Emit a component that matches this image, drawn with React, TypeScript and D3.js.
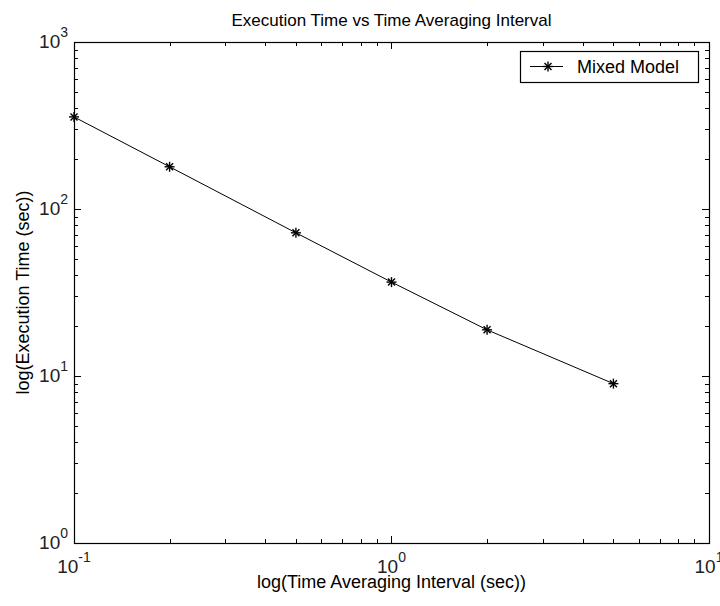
import React, { useEffect, useRef } from 'react'
import * as d3 from 'd3'

// data
const intervals = [0.1, 0.2, 0.5, 1, 2, 5]
const execTimes = [356, 179, 72, 36.5, 18.9, 9.0]
const seriesName = 'Mixed Model'
const xDecades = [-1, 0, 1]
const yDecades = [0, 1, 2, 3]

const W = 720
const H = 606
const FONT = 'Arial, "Liberation Sans", Helvetica, sans-serif'

const App = () => {
  const svgRef = useRef<SVGSVGElement>(null)

  useEffect(() => {
    const svg = d3.select(svgRef.current)
    svg.selectAll('*').remove()

    const left = 74
    const right = 709
    const top = 42
    const bottom = 543

    const x = d3.scaleLog().domain([0.1, 10]).range([left, right])
    const y = d3.scaleLog().domain([1, 1000]).range([bottom, top])

    const g = svg.append('g')

    // minor + major ticks, inward, on all four sides
    const xTicks: number[] = []
    for (let e = -1; e < 1; e++) for (let k = 1; k <= 9; k++) xTicks.push(k * Math.pow(10, e))
    const yTicks: number[] = []
    for (let e = 0; e < 3; e++) for (let k = 1; k <= 9; k++) yTicks.push(k * Math.pow(10, e))

    xTicks.forEach((v) => {
      const len = v === 0.1 || v === 1 ? 7 : 4
      const px = Math.round(x(v)) + 0.5
      g.append('line').attr('x1', px).attr('x2', px).attr('y1', bottom).attr('y2', bottom - len)
        .attr('stroke', '#000')
      g.append('line').attr('x1', px).attr('x2', px).attr('y1', top).attr('y2', top + len)
        .attr('stroke', '#000')
    })
    yTicks.forEach((v) => {
      const len = v === 1 || v === 10 || v === 100 ? 7 : 4
      const py = Math.round(y(v)) + 0.5
      g.append('line').attr('x1', left).attr('x2', left + len).attr('y1', py).attr('y2', py)
        .attr('stroke', '#000')
      g.append('line').attr('x1', right).attr('x2', right - len).attr('y1', py).attr('y2', py)
        .attr('stroke', '#000')
    })

    // axes box
    g.append('rect')
      .attr('x', left + 0.5).attr('y', top + 0.5)
      .attr('width', right - left).attr('height', bottom - top)
      .attr('fill', 'none').attr('stroke', '#000').attr('stroke-width', 1.2)

    // tick labels
    const powLabel = (sel: any, e: number) => {
      sel.append('tspan').text('10')
      sel.append('tspan').attr('dy', -11).attr('font-size', 14).text(String(e))
    }
    xDecades.forEach((e) => {
      const t = g.append('text').attr('x', x(Math.pow(10, e))).attr('y', bottom + 30)
        .attr('text-anchor', 'middle')
        .attr('font-family', FONT).attr('font-size', 19).attr('fill', '#222')
      powLabel(t, e)
    })
    yDecades.forEach((e) => {
      const t = g.append('text').attr('x', left - 6).attr('y', y(Math.pow(10, e)) + 6)
        .attr('text-anchor', 'end')
        .attr('font-family', FONT).attr('font-size', 19).attr('fill', '#222')
      powLabel(t, e)
    })

    // line + star markers
    const pts = intervals.map((d, i) => [x(d), y(execTimes[i])] as [number, number])
    g.append('path')
      .attr('d', d3.line()(pts))
      .attr('fill', 'none').attr('stroke', '#000').attr('stroke-width', 1)

    const star = (cx: number, cy: number) => {
      const r = 5
      const s = g.append('g').attr('stroke', '#000').attr('stroke-width', 1.4)
      s.append('line').attr('x1', cx - r).attr('x2', cx + r).attr('y1', cy).attr('y2', cy)
      s.append('line').attr('x1', cx).attr('x2', cx).attr('y1', cy - r).attr('y2', cy + r)
      s.append('line').attr('x1', cx - r * 0.7).attr('x2', cx + r * 0.7).attr('y1', cy - r * 0.7).attr('y2', cy + r * 0.7)
      s.append('line').attr('x1', cx - r * 0.7).attr('x2', cx + r * 0.7).attr('y1', cy + r * 0.7).attr('y2', cy - r * 0.7)
    }
    pts.forEach(([px, py]) => star(px, py))

    // legend
    const lx = 520
    const ly = 51
    g.append('rect').attr('x', lx + 0.5).attr('y', ly + 0.5).attr('width', 178).attr('height', 31)
      .attr('fill', '#fff').attr('stroke', '#000').attr('stroke-width', 1.2)
    g.append('line').attr('x1', lx + 10).attr('x2', lx + 43).attr('y1', ly + 15.5).attr('y2', ly + 15.5)
      .attr('stroke', '#000')
    star(lx + 28, ly + 15.5)
    g.append('text').attr('x', lx + 57).attr('y', ly + 22)
      .attr('font-family', FONT).attr('font-size', 18).attr('fill', '#000').text(seriesName)

    // title and axis labels
    g.append('text').attr('x', (left + right) / 2).attr('y', 26).attr('text-anchor', 'middle')
      .attr('font-family', FONT).attr('font-size', 17).text('Execution Time vs Time Averaging Interval')
    g.append('text').attr('x', (left + right) / 2).attr('y', 588).attr('text-anchor', 'middle')
      .attr('font-family', FONT).attr('font-size', 18).text('log(Time Averaging Interval (sec))')
    g.append('text')
      .attr('transform', `translate(29,${(top + bottom) / 2}) rotate(-90)`)
      .attr('text-anchor', 'middle')
      .attr('font-family', FONT).attr('font-size', 18).text('log(Execution Time (sec))')
  }, [])

  return (
    <svg ref={svgRef} width={W} height={H}
      style={{ position: 'absolute', left: 0, top: 0, background: '#fff' }} />
  )
}

export default App
